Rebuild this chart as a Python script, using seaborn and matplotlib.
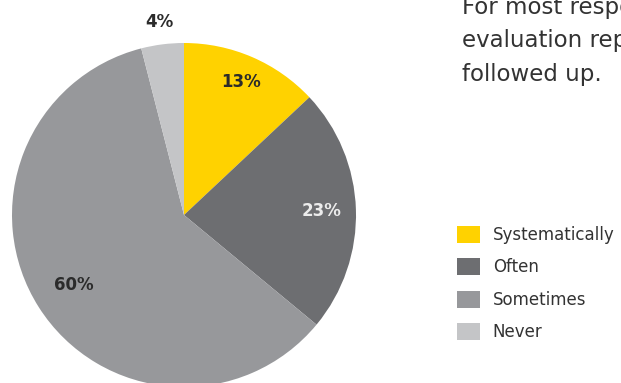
import numpy as np
import pandas as pd
import matplotlib
matplotlib.use("Agg")
import matplotlib.pyplot as plt
import seaborn as sns

# Survey answers: how often the evaluation report is followed up
categories = ["Systematically", "Often", "Sometimes", "Never"]
shares = [13, 23, 60, 4]
colors = ["#FFD200", "#6D6E71", "#97989B", "#C4C5C7"]
label_colors = ["#2b2b2b", "#ececec", "#2b2b2b", "#2b2b2b"]
label_radius = [0.84, 0.80, 0.76, 1.13]
headline_lines = ["For most respondents, the", "evaluation report is sometimes", "followed up."]

df = pd.DataFrame({"answer": categories, "share": shares})

sns.set_theme(style="white")
plt.rcParams["font.family"] = ["DejaVu Sans"]

W, H = 621, 383
fig = plt.figure(figsize=(W / 100, H / 100), dpi=100)
ax = fig.add_axes([0, 0, 1, 1])

cx, cy, R = 184, H - 215, 172
wedges, _ = ax.pie(df["share"], colors=colors, startangle=90, counterclock=False,
                   center=(cx, cy), radius=R, frame=True,
                   wedgeprops=dict(linewidth=0))
ax.set_xlim(0, W)
ax.set_ylim(0, H)
ax.set_aspect("equal")
ax.axis("off")

for w, val, col, rr in zip(wedges, df["share"], label_colors, label_radius):
    mid = np.deg2rad((w.theta1 + w.theta2) / 2)
    x = cx + R * rr * np.cos(mid)
    y = cy + R * rr * np.sin(mid)
    ax.text(x, y, f"{val}%", ha="center", va="center", fontsize=12,
            fontweight="bold", color=col)

# Headline, one line per baseline
for i, line in enumerate(headline_lines):
    fig.text(462 / W, 1 - (14 + 33.5 * i) / H, line, ha="left", va="baseline",
             fontsize=16.5, color="#333333")

fig.legend(wedges, categories, loc="upper left",
           bbox_to_anchor=(457 / W, 1 - 226 / H), frameon=False,
           fontsize=12, handlelength=1.35, handleheight=1.2,
           handletextpad=0.8, labelspacing=0.85, borderpad=0,
           borderaxespad=0, labelcolor="#333333")

fig.savefig("out.png", dpi=100)
